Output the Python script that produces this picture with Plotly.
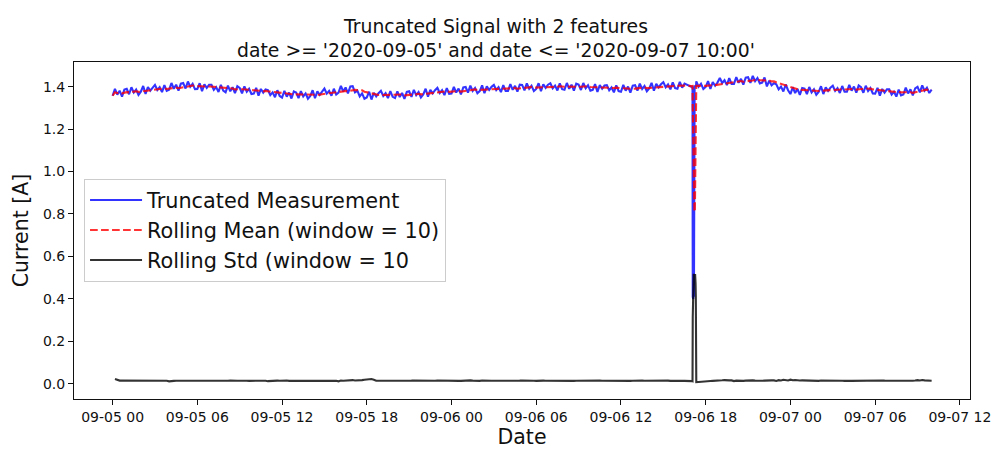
import pandas as pd
import plotly.graph_objects as go

# Current readings every 10 minutes from 2020-09-05 00:00 to 2020-09-07 10:00.
# The logger has no 10-minute readings at 16:40, 16:50, 17:00 and 17:10 on 09-06.
skipped_slots = ["2020-09-06 16:40", "2020-09-06 16:50", "2020-09-06 17:00", "2020-09-06 17:10"]
current_10min = [
    # 09-05
    1.357, 1.389, 1.362, 1.381, 1.353, 1.386,
    1.390, 1.364, 1.397, 1.372, 1.386, 1.361,
    1.376, 1.403, 1.366, 1.398, 1.381, 1.396,
    1.408, 1.384, 1.397, 1.374, 1.407, 1.380,
    1.385, 1.417, 1.390, 1.409, 1.381, 1.414,
    1.417, 1.391, 1.424, 1.399, 1.413, 1.388,
    1.389, 1.416, 1.379, 1.411, 1.394, 1.409,
    1.409, 1.385, 1.398, 1.375, 1.408, 1.381,
    1.373, 1.405, 1.378, 1.397, 1.369, 1.402,
    1.394, 1.368, 1.401, 1.376, 1.390, 1.365,
    1.367, 1.394, 1.357, 1.389, 1.372, 1.387,
    1.384, 1.360, 1.373, 1.350, 1.383, 1.356,
    1.348, 1.380, 1.353, 1.372, 1.344, 1.377,
    1.372, 1.346, 1.379, 1.354, 1.368, 1.343,
    1.356, 1.383, 1.346, 1.378, 1.361, 1.376,
    1.391, 1.367, 1.380, 1.357, 1.390, 1.363,
    1.372, 1.404, 1.377, 1.396, 1.368, 1.401,
    1.402, 1.373, 1.381, 1.354, 1.368, 1.343,
    1.349, 1.376, 1.339, 1.371, 1.354, 1.369,
    1.380, 1.356, 1.369, 1.346, 1.379, 1.352,
    1.346, 1.378, 1.351, 1.370, 1.342, 1.375,
    1.378, 1.352, 1.385, 1.360, 1.374, 1.349,
    1.363, 1.390, 1.353, 1.385, 1.368, 1.383,
    1.394, 1.370, 1.383, 1.360, 1.393, 1.366,
    # 09-06
    1.367, 1.399, 1.372, 1.391, 1.363, 1.396,
    1.398, 1.372, 1.405, 1.380, 1.394, 1.369,
    1.379, 1.406, 1.369, 1.401, 1.384, 1.399,
    1.408, 1.384, 1.397, 1.374, 1.407, 1.380,
    1.380, 1.412, 1.385, 1.404, 1.376, 1.409,
    1.408, 1.382, 1.415, 1.390, 1.404, 1.379,
    1.389, 1.416, 1.379, 1.411, 1.394, 1.409,
    1.416, 1.392, 1.405, 1.382, 1.415, 1.388,
    1.385, 1.417, 1.390, 1.409, 1.381, 1.414,
    1.410, 1.384, 1.417, 1.392, 1.406, 1.381,
    1.385, 1.412, 1.375, 1.407, 1.390, 1.405,
    1.407, 1.383, 1.396, 1.373, 1.406, 1.379,
    1.376, 1.408, 1.381, 1.400, 1.372, 1.405,
    1.407, 1.381, 1.414, 1.389, 1.403, 1.378,
    1.391, 1.418, 1.381, 1.413, 1.396, 1.411,
    1.421, 1.397, 1.410, 1.387, 1.420, 1.393,
    1.390, 1.422, 1.395, 1.414,
    1.425, 1.400, 1.414, 1.389,
    1.399, 1.426, 1.389, 1.421, 1.404, 1.419,
    1.441, 1.417, 1.430, 1.407, 1.440, 1.413,
    1.413, 1.445, 1.418, 1.437, 1.409, 1.442,
    1.444, 1.418, 1.451, 1.426, 1.440, 1.415,
    1.419, 1.443, 1.401, 1.428, 1.406, 1.416,
    1.411, 1.387, 1.400, 1.377, 1.410, 1.383,
    # 09-07
    1.365, 1.397, 1.370, 1.389, 1.361, 1.394,
    1.391, 1.365, 1.398, 1.373, 1.387, 1.362,
    1.375, 1.402, 1.365, 1.397, 1.380, 1.395,
    1.404, 1.380, 1.393, 1.370, 1.403, 1.376,
    1.376, 1.408, 1.381, 1.400, 1.372, 1.405,
    1.397, 1.371, 1.404, 1.379, 1.393, 1.368,
    1.367, 1.394, 1.357, 1.389, 1.372, 1.387,
    1.387, 1.363, 1.376, 1.353, 1.386, 1.359,
    1.363, 1.395, 1.368, 1.387, 1.359, 1.392,
    1.399, 1.373, 1.406, 1.381, 1.395, 1.370,
    1.386,
]

# One-minute readings logged during the supply dip on 09-06, 17:01 to 17:19.
event_start = "2020-09-06 17:01"
current_event = [
    1.398, 1.404, 1.395, 1.401, 0.41, 0.43, 0.40, 0.42, 0.44, 0.41,
    1.402, 1.397, 1.406, 1.399, 1.404, 1.396, 1.405, 1.400, 1.403,
]

window = 10
title_lines = ["Truncated Signal with 2 features",
               "date >= '2020-09-05' and date <= '2020-09-07 10:00'"]
y_ticks = [0.0, 0.2, 0.4, 0.6, 0.8, 1.0, 1.2, 1.4]

# ---- assemble the series -------------------------------------------------
t10 = pd.date_range("2020-09-05 00:00", "2020-09-07 10:00", freq="10min")
t10 = t10.drop(pd.DatetimeIndex(skipped_slots))
assert len(t10) == len(current_10min)
t1 = pd.date_range(event_start, periods=len(current_event), freq="1min")

signal = pd.concat([
    pd.Series(current_10min, index=t10),
    pd.Series(current_event, index=t1),
]).sort_index()

roll_mean = signal.rolling(window, min_periods=1).mean()
roll_std = signal.rolling(window, min_periods=2).std()

# ---- figure ----------------------------------------------------------------
LW = 2.1  # 1.5 pt at 100 dpi

fig = go.Figure()
fig.add_trace(go.Scatter(
    x=signal.index, y=signal.values, mode="lines",
    name="Truncated Measurement",
    line=dict(color="rgba(0,0,255,0.8)", width=LW),
))
fig.add_trace(go.Scatter(
    x=roll_mean.index, y=roll_mean.values, mode="lines",
    name=f"Rolling Mean (window = {window})",
    line=dict(color="rgba(255,0,0,0.8)", width=LW, dash="7.7px,3.3px"),
))
fig.add_trace(go.Scatter(
    x=roll_std.index, y=roll_std.values, mode="lines",
    name=f"Rolling Std (window = {window}",
    line=dict(color="rgba(0,0,0,0.8)", width=LW),
))

axis_style = dict(
    showline=True, linecolor="#111", linewidth=1.1, mirror=True,
    ticks="outside", ticklen=5, tickwidth=1.1, tickcolor="#111",
    showgrid=False, zeroline=False, automargin=False,
    tickfont=dict(size=14, color="#111"),
)

fig.update_layout(
    width=992, height=449,
    margin=dict(l=74, r=22, t=62, b=50),
    paper_bgcolor="white", plot_bgcolor="white",
    font=dict(family="DejaVu Sans", color="#111"),
    title=dict(
        text="<br>".join(title_lines),
        x=0.5, xref="container", xanchor="center",
        y=1 - 33 / 449, yref="container", yanchor="middle",
        font=dict(size=18.8, color="#111"),
    ),
    xaxis=dict(
        type="date",
        range=["2020-09-04 21:16", "2020-09-07 12:43"],
        tick0="2020-09-05 00:00", dtick=6 * 3600 * 1000,
        tickformat="%m-%d %H",
        title=dict(text="Date", font=dict(size=20.5), standoff=4),
        **axis_style,
    ),
    yaxis=dict(
        range=[-0.0715, 1.516],
        tickvals=y_ticks, tickformat=".1f",
        title=dict(text="Current [A]", font=dict(size=20.5), standoff=8),
        **axis_style,
    ),
    legend=dict(
        x=0.0112, y=0.653, xanchor="left", yanchor="top",
        bgcolor="rgba(255,255,255,0.8)", bordercolor="#cccccc", borderwidth=1,
        font=dict(size=20.8, color="#111"),
        itemwidth=52,
    ),
    showlegend=True,
)

fig.write_html("out.html")
